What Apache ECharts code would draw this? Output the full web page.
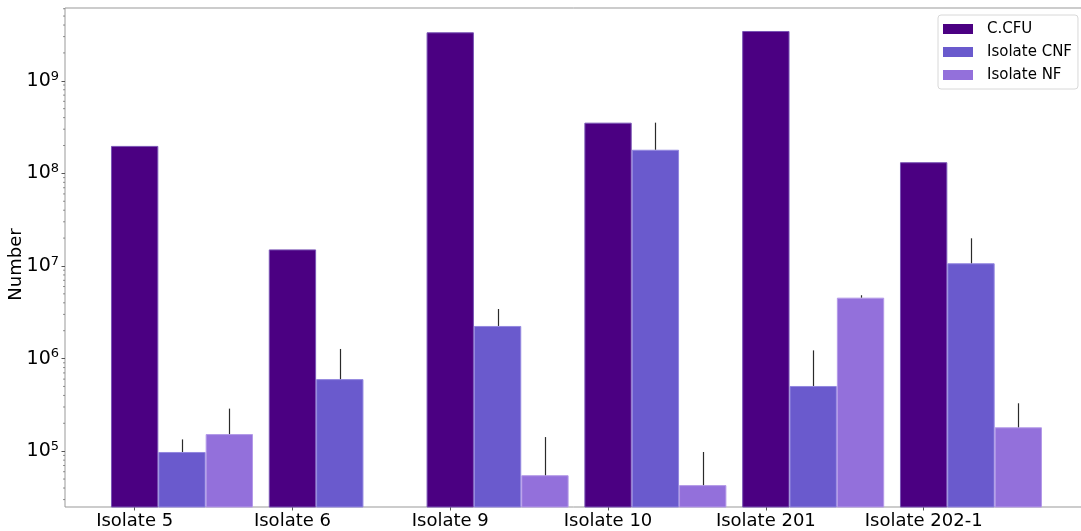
<!DOCTYPE html>
<html>
<head>
<meta charset="utf-8">
<script src="https://cdn.jsdelivr.net/npm/echarts@6/dist/echarts.min.js"></script>
<style>html,body{margin:0;padding:0;background:#fff}#c{width:1081px;height:531px}</style>
</head>
<body>
<div id="c"></div>
<script>
// ---- data ----
const categories = ['Isolate 5', 'Isolate 6', 'Isolate 9', 'Isolate 10', 'Isolate 201', 'Isolate 202-1'];
const seriesNames = ['C.CFU', 'Isolate CNF', 'Isolate NF'];
const cfu = [1.98e8, 1.51e7, 3.34e9, 3.53e8, 3.45e9, 1.32e8];
const cnf = [9.8e4, 6.0e5, 2.25e6, 1.80e8, 5.06e5, 1.07e7];
const nf = [1.53e5, null, 5.5e4, 4.3e4, 4.55e6, 1.81e5];
const cnfErr = [3.6e4, 6.7e5, 1.18e6, 1.73e8, 7.2e5, 9.2e6];
const nfErr = [1.35e5, null, 8.7e4, 5.5e4, 2.8e5, 1.48e5];
const yAxisName = 'Number';

// ---- layout / style ----
const FONT = 'DejaVu Sans';
const colors = ['#4B0082', '#6A5ACD', '#9370DB'];
const edges = ['#7a55b5', '#9488e0', '#b49ae8'];
const BAR_W = 47.34;
const BAND_W = 157.8;
const Y_MIN = 2.495e4;
const Y_MAX = 6.11e9;
// one empty trailing slot so the last group is not clipped at the plot edge
const axisCategories = categories.concat(['']);

const errData = [];
[[cnf, cnfErr, 1], [nf, nfErr, 2]].forEach(([vals, errs, k]) => {
  vals.forEach((v, i) => {
    if (v != null && errs[i] != null) errData.push([i, v, errs[i], k]);
  });
});

const minorTicks = [];
for (let n = 4; n <= 9; n++) {
  for (let m = 2; m <= 9; m++) {
    const t = m * Math.pow(10, n);
    if (t > Y_MIN && t < Y_MAX) minorTicks.push([0, t]);
  }
}

const chart = echarts.init(document.getElementById('c'), null, {renderer: 'canvas'});
const barSeries = [cfu, cnf, nf].map((d, k) => ({
  type: 'bar', name: seriesNames[k], data: d,
  xAxisIndex: 1, yAxisIndex: 1,
  barWidth: BAR_W, barGap: '0%',
  itemStyle: {color: colors[k], borderColor: edges[k], borderWidth: 1},
  emphasis: {disabled: true}
}));
const dummy = (nm) => ({type: 'bar', name: nm, data: [], xAxisIndex: 1, yAxisIndex: 1, barWidth: BAR_W, barGap: '0%'});

chart.setOption({
  animation: false,
  textStyle: {fontFamily: FONT},
  grid: [
    {left: 65, top: 8, right: -3, bottom: 24, show: true, borderColor: '#999', borderWidth: 1, backgroundColor: 'transparent', outerBoundsMode: 'none'},
    {left: 134.65 - BAND_W / 2, top: 8, width: BAND_W * axisCategories.length, bottom: 24, show: false, outerBoundsMode: 'none'}
  ],
  legend: {
    data: seriesNames, orient: 'vertical', left: 938, top: 15,
    itemWidth: 30, itemHeight: 10, itemGap: 5, icon: 'rect',
    itemStyle: {borderWidth: 0},
    textStyle: {fontSize: 15, color: '#000', fontFamily: FONT, padding: [0, 0, 0, 9], lineHeight: 18},
    backgroundColor: '#fff', borderColor: '#d8d8d8', borderWidth: 1, borderRadius: 3,
    padding: [5, 6, 5, 5]
  },
  xAxis: [
    {gridIndex: 0, type: 'value', min: 0, max: 1, show: false},
    {gridIndex: 1, type: 'category', data: axisCategories,
     axisLine: {show: false},
     axisTick: {show: true, alignWithLabel: true, length: 3.5, lineStyle: {color: '#555', width: 1}},
     axisLabel: {fontSize: 18, color: '#000', fontFamily: FONT, margin: 5, interval: 0},
     splitLine: {show: false}}
  ],
  yAxis: [
    {gridIndex: 0, type: 'log', logBase: 10, min: Y_MIN, max: Y_MAX,
     name: yAxisName, nameLocation: 'middle', nameGap: 40, nameMoveOverlap: false,
     nameTextStyle: {fontSize: 18, color: '#000', fontFamily: FONT, padding: [0, 14, 0, 0]},
     axisLine: {show: false},
     axisTick: {show: true, length: 3.5, lineStyle: {color: '#555', width: 1}},
     splitLine: {show: false},
     axisLabel: {
       showMinLabel: false, showMaxLabel: false, margin: 6,
       fontSize: 18, color: '#000', fontFamily: FONT,
       formatter: (v) => '{b|10}{sup|' + Math.round(Math.log10(v)) + '}',
       rich: {
         b: {fontSize: 19, color: '#000', fontFamily: FONT},
         sup: {fontSize: 13, color: '#000', fontFamily: FONT, padding: [0, 0, 9, 0]}
       }
     }},
    {gridIndex: 1, type: 'log', logBase: 10, min: Y_MIN, max: Y_MAX, show: false, splitLine: {show: false}}
  ],
  series: [
    dummy('_pad1'), dummy('_pad2'),
    ...barSeries,
    {
      type: 'custom', name: 'err', xAxisIndex: 1, yAxisIndex: 1, z: 5,
      data: errData, encode: {x: 0, y: 1},
      renderItem: (params, api) => {
        const i = api.value(0), v = api.value(1), e = api.value(2), k = api.value(3);
        const p0 = api.coord([i, v]);
        const p1 = api.coord([i, v + e]);
        const x = Math.round(p0[0] + k * BAR_W) + 0.5;
        return {type: 'line', shape: {x1: x, y1: p0[1], x2: x, y2: p1[1]},
                style: {stroke: '#2a2a2a', lineWidth: 1.2}};
      }
    },
    {
      type: 'custom', name: 'minor', xAxisIndex: 0, yAxisIndex: 0, clip: false, silent: true,
      data: minorTicks, encode: {x: 0, y: 1},
      renderItem: (params, api) => {
        const p = api.coord([api.value(0), api.value(1)]);
        return {type: 'line', shape: {x1: p[0] - 2, y1: p[1], x2: p[0], y2: p[1]},
                style: {stroke: '#666', lineWidth: 0.7}};
      }
    }
  ]
});
</script>
</body>
</html>
